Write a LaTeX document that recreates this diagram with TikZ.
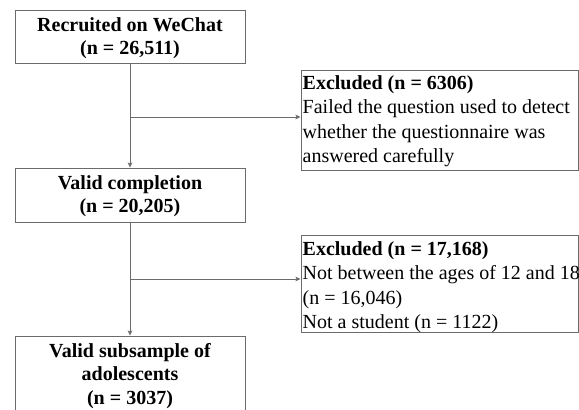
\documentclass[tikz,border=0pt]{standalone}
\usepackage{fontspec}
\setmainfont{Liberation Serif}
\usetikzlibrary{arrows.meta}
\begin{document}
\begin{tikzpicture}[x=1pt,y=-1pt,
  line/.style={draw=black!58, line width=0.9pt},
  arr/.style={line, -{Stealth[length=5pt,width=4.5pt,inset=1pt]}},
  leftbox/.style={line, rectangle, inner sep=0pt, minimum width=230pt,
    align=center, font=\fontsize{20}{23.5}\selectfont\bfseries},
  rightbox/.style={line, rectangle, inner sep=0pt, minimum width=277pt},
  righttext/.style={inner sep=0pt, anchor=north west, align=left,
    font=\fontsize{20}{24.6}\selectfont}
]
\clip (0,0) rectangle (579,410);
\node[leftbox, minimum height=53pt] (n1) at (130,36.5)
  {\rule{0pt}{17pt}Recruited on WeChat\\(n = 26,511)};
\node[leftbox, minimum height=54pt] (n2) at (130,195)
  {\rule{0pt}{16pt}Valid completion\\(n = 20,205)};
\node[leftbox, minimum height=80pt] (n3) at (130,376)
  {Valid subsample of\\adolescents\\(n = 3037)};
\node[rightbox, minimum height=100pt] (exA) at (439.5,120) {};
\node[rightbox, minimum height=97pt] (exB) at (439.5,283.5) {};
\node[righttext] (tA) at (302.5,75)
  {\textbf{Excluded (n = 6306)}\\Failed the question used to detect\\whether the questionnaire was\\answered carefully};
\node[righttext] (tB) at (302.5,241)
  {\textbf{Excluded (n = 17,168)}\\Not between the ages of 12 and 18\\(n = 16,046)\\Not a student (n = 1122)};
\coordinate (j1) at (130,117);
\coordinate (j2) at (130,279);
\draw[arr] (n1.south) -- (n2.north);
\draw[arr] (n2.south) -- (n3.north);
\draw[arr] (j1) -- (j1 -| exA.west);
\draw[arr] (j2) -- (j2 -| exB.west);
\end{tikzpicture}
\end{document}
